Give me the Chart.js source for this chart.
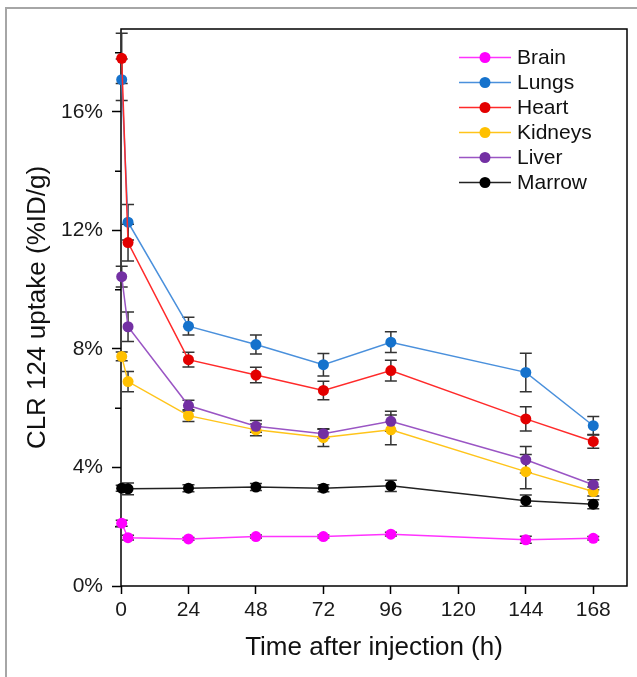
<!DOCTYPE html>
<html><head><meta charset="utf-8">
<script src="https://cdn.jsdelivr.net/npm/chart.js@4/dist/chart.umd.min.js"></script>
<style>html,body{margin:0;padding:0;background:#fff}#wrap{position:relative;width:637px;height:677px}</style>
</head><body><div id="wrap"><canvas id="c" width="637" height="677"></canvas></div>
<script>
// ---- data ----
const times = [0.25, 2.5, 24, 48, 72, 96, 144, 168];
const seriesNames = ['Brain', 'Lungs', 'Heart', 'Kidneys', 'Liver', 'Marrow'];
const brain   = [2.12, 1.63, 1.59, 1.67, 1.67, 1.75, 1.56, 1.61];
const lungs   = [17.09, 12.28, 8.77, 8.15, 7.47, 8.23, 7.21, 5.41];
const heart   = [17.81, 11.59, 7.64, 7.12, 6.60, 7.27, 5.64, 4.88];
const kidneys = [7.75, 6.90, 5.75, 5.27, 5.01, 5.27, 3.86, 3.19];
const liver   = [10.44, 8.75, 6.09, 5.39, 5.14, 5.56, 4.26, 3.42];
const marrow  = [3.30, 3.28, 3.30, 3.34, 3.30, 3.38, 2.88, 2.76];
const brainErr   = [0.10, 0.08, 0.05, 0.05, 0.05, 0.06, 0.12, 0.06];
const lungsErr   = [0.70, 0.60, 0.30, 0.32, 0.38, 0.35, 0.65, 0.31];
const heartErr   = [0.85, 0.62, 0.25, 0.26, 0.31, 0.35, 0.41, 0.23];
const kidneysErr = [0.15, 0.34, 0.20, 0.20, 0.30, 0.50, 0.58, 0.15];
const liverErr   = [0.35, 0.50, 0.18, 0.20, 0.15, 0.34, 0.45, 0.17];
const marrowErr  = [0.10, 0.20, 0.12, 0.12, 0.12, 0.19, 0.19, 0.15];
const yTickValues = [0, 4, 8, 12, 16];
const yMinorTickValues = [2, 6, 10, 14, 18];
const xTickValues = [0, 24, 48, 72, 96, 120, 144, 168];
const yTitle = 'CLR 124 uptake (%ID/g)';
const xTitle = 'Time after injection (h)';

const seriesValues = [brain, lungs, heart, kidneys, liver, marrow];
const seriesErrors = [brainErr, lungsErr, heartErr, kidneysErr, liverErr, marrowErr];
const markerColors = ['#ff00ff', '#1572cc', '#e30000', '#ffc000', '#7330a3', '#000000'];
const lineColors   = ['#ff33ff', '#4a90dc', '#ff2a2a', '#ffc41a', '#9a55c4', '#222222'];

const FONT = "'Liberation Sans', Arial, Helvetica, sans-serif";

const datasets = seriesNames.map((name, i) => ({
  label: name,
  data: times.map((t, j) => ({x: t, y: seriesValues[i][j]})),
  errors: seriesErrors[i],
  borderColor: lineColors[i],
  backgroundColor: markerColors[i],
  pointBackgroundColor: markerColors[i],
  pointBorderColor: markerColors[i],
  pointBorderWidth: 0,
  pointRadius: 5.5,
  borderWidth: 1.5,
  tension: 0,
  clip: false,
  order: seriesNames.length - i
}));

const framePlugin = {
  id: 'frame',
  beforeDraw(chart) {
    const ctx = chart.ctx;
    ctx.save();
    ctx.fillStyle = '#fff';
    ctx.fillRect(0, 0, chart.width, chart.height);
    ctx.strokeStyle = '#a6a6a6';
    ctx.lineWidth = 2;
    ctx.beginPath();
    ctx.moveTo(6, chart.height);
    ctx.lineTo(6, 8);
    ctx.lineTo(chart.width, 8);
    ctx.stroke();
    ctx.restore();
  },
  beforeDatasetsDraw(chart) {
    const {ctx, chartArea: a, scales} = chart;
    ctx.save();
    ctx.strokeStyle = '#000';
    ctx.lineWidth = 1.5;
    ctx.strokeRect(a.left, a.top, a.right - a.left, a.bottom - a.top);
    // minor y ticks
    ctx.beginPath();
    yMinorTickValues.forEach(v => {
      const y = scales.y.getPixelForValue(v);
      ctx.moveTo(a.left - 6, y);
      ctx.lineTo(a.left, y);
    });
    ctx.stroke();
    // error bars
    ctx.strokeStyle = '#333';
    ctx.lineWidth = 1.5;
    chart.data.datasets.forEach(ds => {
      ds.data.forEach((p, j) => {
        const e = ds.errors[j];
        const x = scales.x.getPixelForValue(p.x);
        const y1 = scales.y.getPixelForValue(p.y + e);
        const y2 = scales.y.getPixelForValue(p.y - e);
        ctx.beginPath();
        ctx.moveTo(x, y1); ctx.lineTo(x, y2);
        ctx.moveTo(x - 6, y1); ctx.lineTo(x + 6, y1);
        ctx.moveTo(x - 6, y2); ctx.lineTo(x + 6, y2);
        ctx.stroke();
      });
    });
    ctx.restore();
  },
  afterDraw(chart) {
    const ctx = chart.ctx;
    ctx.save();
    chart.data.datasets.forEach((ds, i) => {
      const y = 57.5 + i * 25;
      ctx.strokeStyle = ds.borderColor;
      ctx.lineWidth = 1.5;
      ctx.beginPath();
      ctx.moveTo(459, y); ctx.lineTo(511, y);
      ctx.stroke();
      ctx.fillStyle = ds.pointBackgroundColor;
      ctx.beginPath();
      ctx.arc(485, y, 5.5, 0, Math.PI * 2);
      ctx.fill();
      ctx.fillStyle = '#111';
      ctx.font = '21px ' + FONT;
      ctx.textBaseline = 'middle';
      ctx.textAlign = 'left';
      ctx.fillText(ds.label, 517, y + 1);
    });
    ctx.restore();
  }
};

new Chart(document.getElementById('c'), {
  type: 'line',
  data: {datasets},
  plugins: [framePlugin],
  options: {
    responsive: false,
    animation: false,
    devicePixelRatio: 1,
    layout: {padding: {left: 0, top: 29, right: 10, bottom: 0}},
    plugins: {legend: {display: false}, tooltip: {enabled: false}},
    scales: {
      x: {
        type: 'linear', min: 0, max: 180,
        afterFit(s) { s.height = 91; },
        afterBuildTicks(s) { s.ticks = xTickValues.map(v => ({value: v})); },
        border: {display: false},
        grid: {display: true, drawOnChartArea: false, drawTicks: true, tickLength: 8, tickColor: '#000', tickWidth: 1.5},
        ticks: {color: '#1a1a1a', font: {family: FONT, size: 21}, padding: 4, maxRotation: 0, autoSkip: false},
        title: {display: true, text: xTitle, color: '#111', font: {family: FONT, size: 26}, padding: {top: 0, bottom: 14}}
      },
      y: {
        type: 'linear', min: 0, max: 18.8,
        afterFit(s) { s.width = 121; },
        afterBuildTicks(s) { s.ticks = yTickValues.map(v => ({value: v})); },
        border: {display: false},
        grid: {display: true, drawOnChartArea: false, drawTicks: true, tickLength: 9, tickColor: '#000', tickWidth: 1.5},
        ticks: {color: '#1a1a1a', font: {family: FONT, size: 21}, padding: 9, callback: v => v + '%'},
        title: {display: true, text: yTitle, color: '#111', font: {family: FONT, size: 26}, padding: {top: 22, bottom: 0}}
      }
    }
  }
});
</script></body></html>
